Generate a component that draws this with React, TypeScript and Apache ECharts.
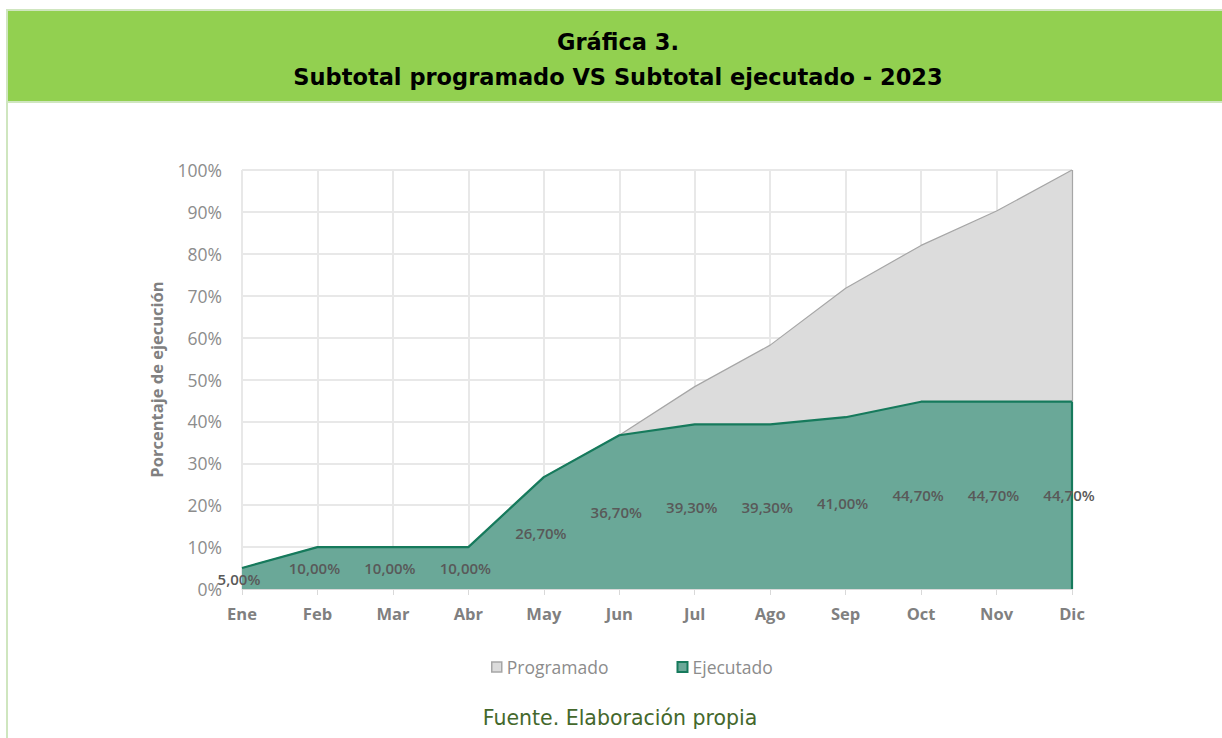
import React, { useEffect, useRef } from "react";
import * as echarts from "echarts";

const months = ["Ene", "Feb", "Mar", "Abr", "May", "Jun", "Jul", "Ago", "Sep", "Oct", "Nov", "Dic"];
const programado = [5, 10, 10, 10, 26.7, 36.7, 48.3, 58.2, 71.8, 82, 90.2, 100];
const ejecutado = [5, 10, 10, 10, 26.7, 36.7, 39.3, 39.3, 41, 44.7, 44.7, 44.7];
const titleLine1 = "Gráfica 3.";
const titleLine2 = "Subtotal programado VS Subtotal ejecutado - 2023";
const sourceText = "Fuente. Elaboración propia";

const fmt = (v: number) => v.toFixed(2).replace(".", ",") + "%";

export default function App() {
  const ref = useRef<HTMLDivElement>(null);
  useEffect(() => {
    document.body.style.margin = "0";
    const chart = echarts.init(ref.current!, null, { renderer: "svg" });
    const last = months[months.length - 1];
    const lastE = ejecutado[ejecutado.length - 1];
    const lastP = programado[programado.length - 1];
    chart.setOption({
      animation: false,
      backgroundColor: "#ffffff",
      grid: { left: 242, right: 150, top: 170, bottom: 149 },
      xAxis: {
        type: "category",
        data: months,
        boundaryGap: false,
        axisLine: { lineStyle: { color: "#d9d9d9", width: 1 } },
        axisTick: { show: true, length: 6, lineStyle: { color: "#d9d9d9" } },
        axisLabel: { color: "#808080", fontFamily: "Open Sans", fontWeight: "bold", fontSize: 16.5, margin: 16 },
        splitLine: { show: true, lineStyle: { color: "#e8e8e8", width: 2 } },
      },
      yAxis: {
        type: "value",
        min: 0,
        max: 100,
        interval: 10,
        name: "Porcentaje de ejecución",
        nameLocation: "middle",
        nameGap: 77,
        nameTextStyle: { color: "#808080", fontFamily: "Open Sans", fontWeight: "bold", fontSize: 16.5 },
        axisLine: { show: false },
        axisTick: { show: false },
        axisLabel: { color: "#8c8c8c", fontFamily: "Open Sans", fontSize: 17.5, margin: 20, formatter: "{value}%" },
        splitLine: { show: true, lineStyle: { color: "#e8e8e8", width: 2 } },
      },
      legend: {
        left: 486,
        top: 653,
        itemGap: 68,
        itemWidth: 10,
        itemHeight: 10,
        textStyle: { color: "#8c8c8c", fontFamily: "Open Sans", fontSize: 17.5 },
        data: [
          { name: "Programado", icon: "rect", itemStyle: { color: "#dcdcdc", borderColor: "#a6a6a6", borderWidth: 1.5 } },
          { name: "Ejecutado", icon: "rect", itemStyle: { color: "#6aa898", borderColor: "#167a5c", borderWidth: 2 } },
        ],
      },
      series: [
        {
          name: "Programado",
          type: "line",
          data: programado,
          symbol: "none",
          lineStyle: { color: "#a6a6a6", width: 1.2 },
          itemStyle: { color: "#dcdcdc" },
          areaStyle: { color: "#dcdcdc", opacity: 1 },
          z: 2,
          markLine: {
            silent: true,
            symbol: "none",
            label: { show: false },
            lineStyle: { color: "#a6a6a6", width: 1.2, type: "solid" },
            data: [[{ coord: [last, lastE] }, { coord: [last, lastP] }]],
          },
        },
        {
          name: "Ejecutado",
          type: "line",
          data: ejecutado,
          symbol: "none",
          lineStyle: { color: "#167a5c", width: 2.2 },
          itemStyle: { color: "#6aa898" },
          areaStyle: { color: "#6aa898", opacity: 1 },
          z: 3,
          markLine: {
            silent: true,
            symbol: "none",
            label: { show: false },
            lineStyle: { color: "#167a5c", width: 2.2, type: "solid" },
            data: [[{ coord: [last, 0] }, { coord: [last, lastE] }]],
          },
        },
        {
          name: "labels",
          type: "custom",
          silent: true,
          z: 10,
          data: ejecutado.map((v, i) => [i, v]),
          renderItem: (params: any, api: any) => {
            const v = api.value(1);
            const p = api.coord([api.value(0), v / 2]);
            return {
              type: "text",
              x: p[0] - 3,
              y: p[1],
              style: {
                text: fmt(v),
                fill: "#595959",
                fontFamily: "Open Sans",
                fontWeight: 600,
                fontSize: 15,
                align: "center",
                verticalAlign: "middle",
              },
            };
          },
        },
      ],
      graphic: [
        { type: "rect", shape: { x: 6, y: 9, width: 1216, height: 94 }, style: { fill: "#cfe6bf" }, z: 0 },
        { type: "rect", shape: { x: 8, y: 11, width: 1214, height: 90 }, style: { fill: "#92d050" }, z: 1 },
        { type: "rect", shape: { x: 6, y: 101, width: 2, height: 637 }, style: { fill: "#cfe6bf" }, z: 1 },
        {
          type: "text",
          x: 618,
          y: 42,
          style: { text: titleLine1, fill: "#000000", fontFamily: "DejaVu Sans", fontWeight: "bold", fontSize: 22.5, align: "center", verticalAlign: "middle" },
          z: 2,
        },
        {
          type: "text",
          x: 618,
          y: 77,
          style: { text: titleLine2, fill: "#000000", fontFamily: "DejaVu Sans", fontWeight: "bold", fontSize: 22.5, align: "center", verticalAlign: "middle" },
          z: 2,
        },
        {
          type: "text",
          x: 620,
          y: 718,
          style: { text: sourceText, fill: "#44682c", fontFamily: "DejaVu Sans", fontSize: 20.5, align: "center", verticalAlign: "middle" },
          z: 2,
        },
      ],
    });
    return () => chart.dispose();
  }, []);
  return <div ref={ref} style={{ position: "absolute", left: 0, top: 0, width: 1222, height: 738 }} />;
}
